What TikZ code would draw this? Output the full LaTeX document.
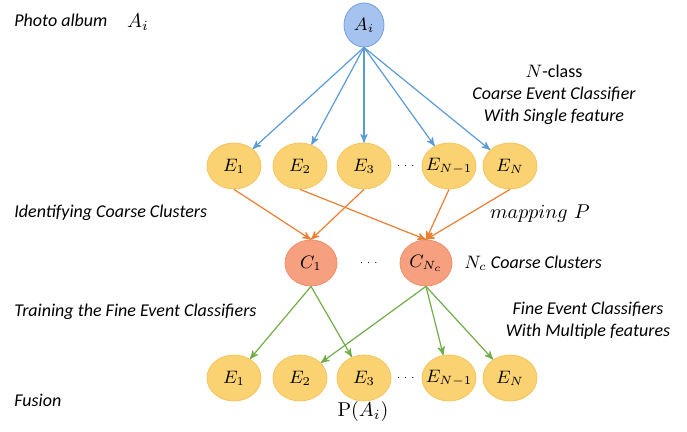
\documentclass[tikz,border=0pt]{standalone}
\usepackage{amsmath}
\usepackage{fontspec}
\newfontfamily\labelfont{Carlito}
\usetikzlibrary{arrows,positioning,shapes.geometric}
\definecolor{albumfill}{HTML}{A6C3EF}
\definecolor{albumdraw}{HTML}{6F9FE0}
\definecolor{eventfill}{HTML}{FAD272}
\definecolor{eventdraw}{HTML}{F5C45E}
\definecolor{clusterfill}{HTML}{F6A080}
\definecolor{clusterdraw}{HTML}{EF8E6C}
\definecolor{blueline}{HTML}{5B9BD5}
\definecolor{orangeline}{HTML}{ED7D31}
\definecolor{greenline}{HTML}{70AD47}
\tikzset{
    %Define standard arrow tip
    >=stealth',
    %Define style for nodes
    album/.style={
           ellipse,
           draw=albumdraw, thin,
           fill=albumfill,
           minimum width=20pt,
           minimum height=22pt,
           inner sep=0pt,
           font=\small},
    event/.style={
           ellipse,
           draw=eventdraw, thin,
           fill=eventfill,
           minimum width=27pt,
           minimum height=23pt,
           inner sep=0pt,
           font=\small},
    cluster/.style={
           ellipse,
           draw=clusterdraw, thin,
           fill=clusterfill,
           minimum width=26pt,
           minimum height=23pt,
           inner sep=0pt,
           font=\small},
    caption/.style={
           font=\labelfont\itshape\fontsize{9}{11}\selectfont,
           inner sep=0pt},
    % Define arrow style
    blueedge/.style={->, color=blueline, line width=0.6pt},
    orangeedge/.style={->, color=orangeline, line width=0.6pt},
    greenedge/.style={->, color=greenline, line width=0.6pt}
}
\begin{document}
\begin{tikzpicture}[x=0.5pt,y=-0.5pt]
\useasboundingbox (0,0) rectangle (687,432);

 %nodes
\node[album] (a) at (364,25) {$A_i$};

\node[event] (e1) at (234,166) {$E_1$};
\node[event] (e2) at (300,166) {$E_2$};
\node[event] (e3) at (364,166) {$E_3$};
\node (edots) at (407,166) {\tiny$\cdots$};
\node[event] (e4) at (449,166) {\makebox[16pt]{$E_{N-1}$}};
\node[event] (e5) at (510,166) {$E_N$};

\node[cluster] (c1) at (311,263) {$C_1$};
\node (cdots) at (370,263) {\tiny$\cdots$};
\node[cluster] (c2) at (426,263) {$C_{N_c}$};

\node[event] (f1) at (234,378) {$E_1$};
\node[event] (f2) at (300,378) {$E_2$};
\node[event] (f3) at (364,378) {$E_3$};
\node (fdots) at (407,378) {\tiny$\cdots$};
\node[event] (f4) at (449,378) {\makebox[16pt]{$E_{N-1}$}};
\node[event] (f5) at (510,378) {$E_N$};

 %captions
\node[caption, anchor=west] (album) at (14,20) {Photo album};
\node (albumsym) at (138,22) {$A_i$};
\node[caption, align=center] (coarse) at (554,95) {\textup{$N$-class}\\Coarse Event Classifier\\With Single feature};
\node[caption, anchor=west] (ident) at (14,213) {Identifying Coarse Clusters};
\node (mapping) at (540,214) {$mapping\ P$};
\node[caption, anchor=west] (nc) at (464,263) {$N_c$ Coarse Clusters};
\node[caption, anchor=west] (train) at (14,312) {Training the Fine Event Classifiers};
\node[caption, align=center] (fine) at (588,321) {Fine Event Classifiers\\With Multiple features};
\node[caption, anchor=west] (fusion) at (14,400) {Fusion};
\node (prob) at (363,412) {$\mathrm{P}(A_i)$};

 %edges
\path[blueedge]
    (a.south) edge (e1)
    (a.south) edge (e2)
    (a.south) edge (e3.north)
    (a.south) edge (e4)
    (a.south) edge (e5);
\path[orangeedge]
    (e1.south) edge (c1.north)
    (e3.south) edge (c1.north)
    (e2.south) edge (c2.north)
    (e4.south) edge (c2.north)
    (e5.south) edge (c2.north);
\path[greenedge]
    (c1.south) edge (f1)
    (c1.south) edge (f3)
    (c2.south) edge (f2)
    (c2.south) edge (f4)
    (c2.south) edge (f5);

\end{tikzpicture}
\end{document}
